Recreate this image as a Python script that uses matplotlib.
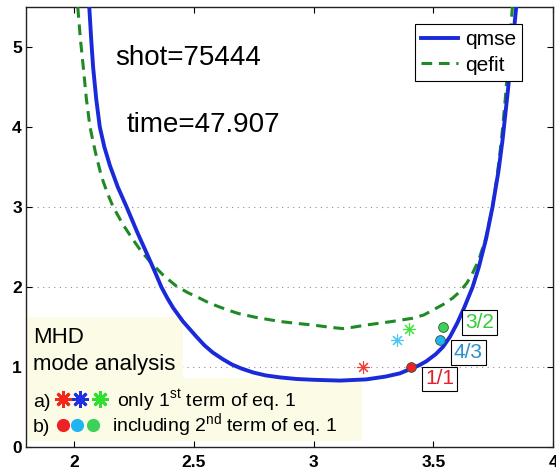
import matplotlib
matplotlib.use("Agg")
import matplotlib.pyplot as plt
from matplotlib.patches import Rectangle

plt.rcParams['font.family'] = ['Liberation Sans', 'DejaVu Sans']
plt.rcParams['mathtext.fontset'] = 'custom'
plt.rcParams['mathtext.rm'] = 'Liberation Sans'

# q profiles
qmse_x = [2.064, 2.072, 2.080, 2.093, 2.108, 2.127, 2.15, 2.183, 2.22, 2.265, 2.31,
          2.338, 2.365, 2.39, 2.414, 2.455, 2.511, 2.545, 2.58, 2.62, 2.66, 2.70,
          2.75, 2.80, 2.86, 2.93, 3.00, 3.11, 3.22, 3.30, 3.36, 3.40, 3.44, 3.47,
          3.51, 3.54, 3.57, 3.60, 3.63, 3.664, 3.69, 3.72, 3.747, 3.772, 3.789,
          3.81, 3.828, 3.846]
qmse_y = [5.5, 5.1, 4.75, 4.35, 4.0, 3.75, 3.52, 3.25, 3.0, 2.68, 2.38,
          2.19, 2.0, 1.86, 1.74, 1.57, 1.38, 1.27, 1.18, 1.10, 1.03, 0.98,
          0.93, 0.895, 0.87, 0.85, 0.84, 0.83, 0.845, 0.88, 0.92, 0.97, 1.02, 1.07,
          1.16, 1.25, 1.38, 1.55, 1.75, 2.0, 2.25, 2.6, 3.0, 3.45, 3.84,
          4.42, 4.95, 5.5]

qefit_x = [2.016, 2.027, 2.039, 2.052, 2.067, 2.09, 2.115, 2.14, 2.164, 2.205, 2.247,
           2.28, 2.317, 2.372, 2.428, 2.475, 2.525, 2.565, 2.608, 2.645, 2.685, 2.76,
           2.858, 2.93, 2.997, 3.06, 3.122, 3.17, 3.22, 3.33, 3.414, 3.46, 3.497,
           3.54, 3.58, 3.61, 3.64, 3.665, 3.69, 3.72, 3.747, 3.762, 3.775, 3.788,
           3.80, 3.815, 3.83]
qefit_y = [5.5, 5.1, 4.75, 4.35, 4.0, 3.68, 3.38, 3.17, 3.0, 2.78, 2.59,
           2.45, 2.32, 2.15, 2.01, 1.93, 1.86, 1.80, 1.75, 1.71, 1.67, 1.62,
           1.57, 1.545, 1.525, 1.50, 1.48, 1.50, 1.525, 1.57, 1.61, 1.65, 1.71,
           1.78, 1.86, 1.94, 2.05, 2.18, 2.34, 2.62, 3.0, 3.3, 3.59, 3.95,
           4.34, 4.9, 5.5]

# mode positions: a) only 1st term, b) including 2nd term
modes = ["1/1", "4/3", "3/2"]
star_x = [3.206, 3.35, 3.397]
star_y = [1.0, 1.34, 1.48]
star_colors = ["#f03c32", "#46c8f0", "#3ce63c"]
dot_x = [3.407, 3.528, 3.539]
dot_y = [1.0, 1.34, 1.50]
dot_colors = ["#ec2226", "#20b4f0", "#3cd25a"]
label_x = [3.527, 3.646, 3.694]
label_y = [0.85, 1.18, 1.56]
label_colors = ["#e4202a", "#2a8fd0", "#33cc33"]

guide_levels = [1, 2, 3]

fig = plt.figure(figsize=(5.56, 4.72), dpi=100)
ax = fig.add_axes([0.0468, 0.053, 0.948, 0.932])

for lev in guide_levels:
    ax.axhline(lev, color="#8c8c8c", lw=0.8, ls=(0, (1, 4)), zorder=1)

# yellow note background
ax.add_patch(Rectangle((1.8, 0.8625), 0.654, 0.7625, facecolor="#fcfce6",
                       edgecolor="none", zorder=2))
ax.add_patch(Rectangle((1.8, 0.075), 1.404, 0.7875, facecolor="#fcfce6",
                       edgecolor="none", zorder=2))

ax.plot(qmse_x, qmse_y, color="#1a2adb", lw=2.8, label="qmse", zorder=4,
        solid_joinstyle="round")
ax.plot(qefit_x, qefit_y, color="#1f8a24", lw=2.2, dashes=(3.5, 2.2),
        label="qefit", zorder=3)

for i in range(len(modes)):
    ax.plot(star_x[i], star_y[i], ls="none", marker=(8, 2, 0), ms=9,
            mec=star_colors[i], mew=0.8, zorder=5)
    ax.plot(dot_x[i], dot_y[i], ls="none", marker="o", ms=7,
            mfc=dot_colors[i], mec="#335533", mew=0.6, zorder=5)
    ax.text(label_x[i], label_y[i], modes[i], color=label_colors[i], fontsize=15,
            ha="center", va="center", zorder=6,
            bbox=dict(boxstyle="square,pad=0.14", fc="white", ec="black", lw=0.8))

ax.text(2.171, 4.86, "shot=75444", fontsize=20, va="center")
ax.text(2.221, 4.03, "time=47.907", fontsize=20, va="center")

ax.text(1.829, 1.30, "MHD", fontsize=16, zorder=6)
ax.text(1.829, 0.9625, "mode analysis", fontsize=16, zorder=6)

key_x = [1.954, 2.025, 2.108]
key_colors = ["#f0281e", "#2030e0", "#30e030"]
ax.text(1.829, 0.5, "a)", fontsize=14, zorder=6)
for kx, kc in zip(key_x, key_colors):
    ax.plot(kx, 0.6, ls="none", marker=(8, 2, 0), ms=12, mec=kc, mew=2, zorder=6)
ax.text(2.179, 0.5, r"only 1$^{\mathrm{st}}$ term of eq. 1", fontsize=14, zorder=6)

dot_key_x = [1.954, 2.0125, 2.079]
ax.text(1.829, 0.1875, "b)", fontsize=14, zorder=6)
for kx, kc in zip(dot_key_x, dot_colors):
    ax.plot(kx, 0.275, ls="none", marker="o", ms=9.5, mfc=kc, mec="none", zorder=6)
ax.text(2.158, 0.1875, r"including 2$^{\mathrm{nd}}$ term of eq. 1", fontsize=14, zorder=6)

ax.set_xlim(1.8, 4)
ax.set_ylim(0, 5.5)
ax.set_xticks([2, 2.5, 3, 3.5, 4])
ax.set_xticklabels(["2", "2.5", "3", "3.5", "4"])
ax.set_yticks([0, 1, 2, 3, 4, 5])
ax.tick_params(direction="in", length=4, width=0.8, top=True, right=True,
               labelsize=12.5)
ax.tick_params(axis="x", pad=6)
ax.tick_params(axis="y", pad=3)
for lab in ax.get_xticklabels() + ax.get_yticklabels():
    lab.set_fontweight("bold")
for sp in ax.spines.values():
    sp.set_linewidth(1.0)
    sp.set_color("#222222")

leg = ax.legend(loc="upper right", bbox_to_anchor=(0.941, 0.961), fontsize=15,
                frameon=True, fancybox=False, framealpha=1, edgecolor="black",
                borderpad=0.3, labelspacing=0.3, handlelength=1.8,
                handletextpad=0.3, borderaxespad=0)
leg.get_frame().set_linewidth(0.8)

fig.savefig("out.png", dpi=100)
